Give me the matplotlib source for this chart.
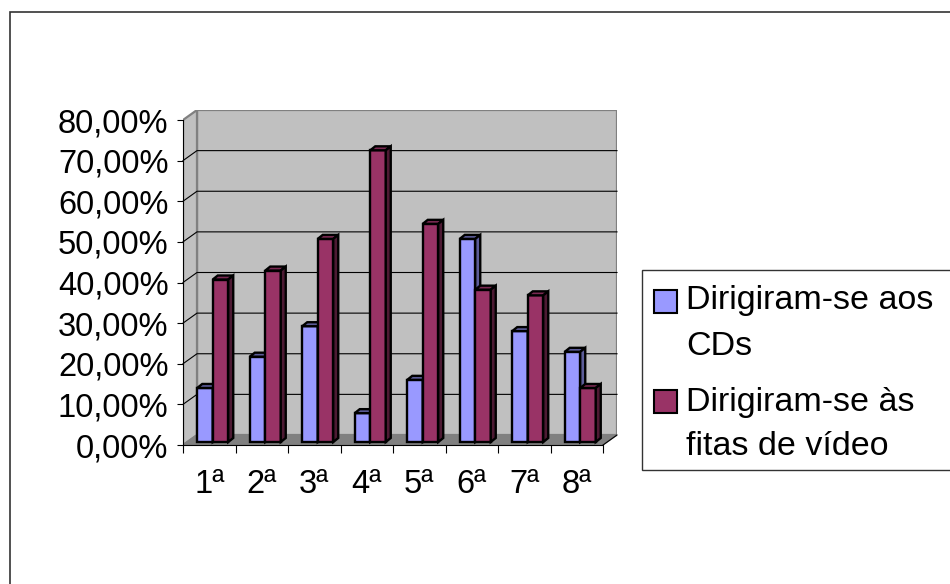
import matplotlib.pyplot as plt
from matplotlib.patches import Polygon, Rectangle

plt.rcParams['font.family'] = ['Liberation Sans', 'DejaVu Sans']

categories = ['1ª', '2ª', '3ª', '4ª', '5ª', '6ª', '7ª', '8ª']
cds = [13.3, 21.0, 28.5, 7.1, 15.3, 50.0, 27.3, 22.2]
fitas = [40.0, 42.2, 50.0, 71.8, 53.7, 37.5, 36.1, 13.3]
series_names = ['Dirigiram-se aos\nCDs', 'Dirigiram-se às\nfitas de vídeo']
yticks = [0, 10, 20, 30, 40, 50, 60, 70, 80]

W, H = 950, 584
fig = plt.figure(figsize=(W / 100, H / 100), dpi=100)

# fake 3d: depth of the box and of each bar, in data units
n = len(categories)
ymax = 80
px_x = 52.5      # pixels per category
px_y = 4.0625    # pixels per percent
back_dx, back_dy = 14 / px_x, 10 / px_y
bar_ox, bar_oy = 3.5 / px_x, 3 / px_y
bar_dx, bar_dy = 5 / px_x, 4 / px_y
bar_w = 15.5 / px_x

left_px, floor_px = 183, 445
ax = fig.add_axes([left_px / W, (H - floor_px) / H,
                   (n + back_dx) * px_x / W, (ymax + back_dy) * px_y / H])
ax.set_xlim(0, n + back_dx)
ax.set_ylim(0, ymax + back_dy)
ax.patch.set_visible(False)

wall = '#C0C0C0'
edge_gray = '#808080'

# walls and floor
ax.add_patch(Polygon([(back_dx, back_dy), (n + back_dx, back_dy),
                      (n + back_dx, ymax + back_dy), (back_dx, ymax + back_dy)],
                     closed=True, facecolor=wall, edgecolor=edge_gray, lw=1.6, zorder=1))
ax.add_patch(Polygon([(0, 0), (back_dx, back_dy), (back_dx, ymax + back_dy), (0, ymax)],
                     closed=True, facecolor=wall, edgecolor=edge_gray, lw=1.6, zorder=1))
ax.add_patch(Polygon([(0, 0), (n, 0), (n + back_dx, back_dy), (back_dx, back_dy)],
                     closed=True, facecolor=edge_gray, edgecolor=edge_gray, lw=1.0, zorder=1))

# gridlines on side and back wall
for v in yticks[1:-1]:
    ax.plot([0, back_dx, n + back_dx], [v, v + back_dy, v + back_dy],
            color='black', lw=0.8, zorder=2, clip_on=False)
ax.plot([n, n + back_dx], [0, back_dy], color='black', lw=0.8, zorder=2, clip_on=False)


def bar3d(x0, h, front, top, side):
    b = bar_oy
    x1 = x0 + bar_w
    ax.bar(x0, h, width=bar_w, bottom=b, align='edge', color=front,
           edgecolor='black', lw=1.7, zorder=5)
    ax.add_patch(Polygon([(x0, b + h), (x0 + bar_dx, b + h + bar_dy),
                          (x1 + bar_dx, b + h + bar_dy), (x1, b + h)],
                         closed=True, facecolor=top, edgecolor='black', lw=1.7, zorder=5))
    ax.add_patch(Polygon([(x1, b), (x1 + bar_dx, b + bar_dy),
                          (x1 + bar_dx, b + h + bar_dy), (x1, b + h)],
                         closed=True, facecolor=side, edgecolor='black', lw=1.7, zorder=5))


for i in range(n):
    mid = i + 0.5 + bar_ox
    bar3d(mid - bar_w, cds[i], '#9999FF', '#5C5C99', '#5C5C99')
    bar3d(mid, fitas[i], '#993366', '#7A2952', '#4D1A33')

# axes: front edges only
for s in ['top', 'right']:
    ax.spines[s].set_visible(False)
ax.spines['left'].set_bounds(0, ymax)
ax.spines['bottom'].set_bounds(0, n)
for s in ['left', 'bottom']:
    ax.spines[s].set_linewidth(0.8)
    ax.spines[s].set_zorder(6)

ax.set_yticks(yticks)
ax.set_yticklabels([f'{v:.2f}%'.replace('.', ',') for v in yticks])
ax.tick_params(axis='y', length=4.5, width=0.8, pad=6.0, labelsize=23.5)
ax.set_xticks(range(n + 1))
ax.set_xticklabels([])
ax.set_xticks([i + 0.5 for i in range(n)], minor=True)
ax.set_xticklabels(categories, minor=True)
ax.tick_params(axis='x', which='major', length=6, width=0.8)
ax.tick_params(axis='x', which='minor', length=0, pad=17, labelsize=23.5)

# outer chart frame
fig.patches.append(Rectangle((10 / W, -0.1), 1.1, 1 - 12 / H + 0.1,
                             transform=fig.transFigure, fill=False,
                             edgecolor='#333333', lw=1.2))

# legend box
lx, ly0, ly1 = 642, 270, 470
fig.patches.append(Rectangle((lx / W, (H - ly1) / H), 1.0, (ly1 - ly0) / H,
                             transform=fig.transFigure, facecolor='white',
                             edgecolor='#333333', lw=1.0))
marker_tops = [290, 390]
baselines = [(309, 355), (411, 455)]
for name, col, top, (b1, b2) in zip(series_names, ['#9999FF', '#993366'],
                                    marker_tops, baselines):
    fig.patches.append(Rectangle((654 / W, (H - top - 23) / H), 23 / W, 23 / H,
                                 transform=fig.transFigure, facecolor=col,
                                 edgecolor='black', lw=1.5))
    line1, line2 = name.split('\n')
    fig.text(686 / W, (H - b1) / H, line1, fontsize=24.5, va='baseline', ha='left')
    fig.text(686 / W, (H - b2) / H, line2, fontsize=24.5, va='baseline', ha='left')

fig.savefig('out.png', dpi=100)
